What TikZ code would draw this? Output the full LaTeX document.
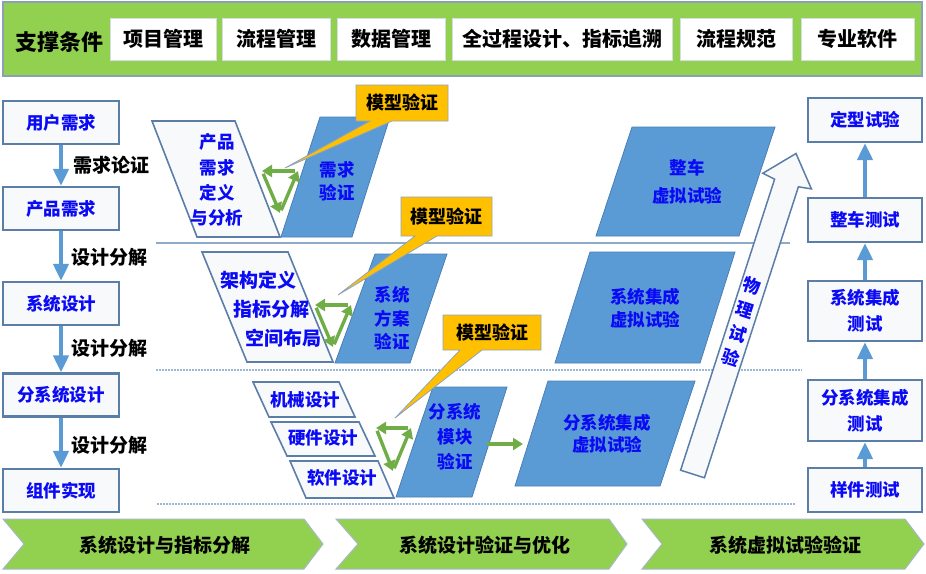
\documentclass[tikz,border=0pt]{standalone}
\usepackage{fontspec}
\setmainfont{Noto Sans CJK SC}
\usetikzlibrary{arrows.meta}
\definecolor{topgreen}{HTML}{92D050}
\definecolor{topline}{HTML}{8AA0B8}
\definecolor{topboxline}{HTML}{D4DCE4}
\definecolor{boxline}{HTML}{5A7EA8}
\definecolor{boxfill}{HTML}{F8F9FB}
\definecolor{txtblue}{HTML}{0A0AF5}
\definecolor{arrblue}{HTML}{5B9BD5}
\definecolor{parblue}{HTML}{5B9BD5}
\definecolor{parline}{HTML}{4A7EB5}
\definecolor{calloutfill}{HTML}{FFC000}
\definecolor{calloutline}{HTML}{8EA4BE}
\definecolor{cycgreen}{HTML}{70AD47}
\definecolor{sepcol}{HTML}{8FAAC8}
\definecolor{dotcol}{HTML}{9DB7D6}
\definecolor{chevline}{HTML}{A8B8C8}
\tikzset{
 lbox/.style={draw=boxline, line width=2.2pt, fill=boxfill, minimum width=116pt, minimum height=43pt, inner sep=0pt, text=txtblue, font=\bfseries\fontsize{17.5}{24}\selectfont, align=center},
 flowarr/.style={draw=arrblue, line width=4pt, -{Triangle[width=15pt,length=17pt]}},
 lab/.style={inner sep=0pt, font=\bfseries\fontsize{19}{22}\selectfont, text=black},
 btxt/.style={inner sep=0pt, text=txtblue, align=center, font=\bfseries\fontsize{17.5}{24}\selectfont},
 bpar/.style={fill=parblue, draw=parline, line width=0.8pt},
 wpar/.style={fill=boxfill, draw=boxline, line width=1.6pt},
 callout/.style={fill=calloutfill, draw=calloutline, line width=0.8pt},
 ctxt/.style={inner sep=0pt, font=\bfseries\fontsize{18}{20}\selectfont, text=black},
 cyc/.style={draw=cycgreen, line width=3.4pt, -{Triangle[width=12pt,length=10pt]}},
 topbox/.style={fill=white, draw=topboxline, line width=0.6pt, inner sep=0pt, minimum height=42pt, font=\bfseries\fontsize{20}{22}\selectfont},
 chev/.style={fill=topgreen, draw=chevline, line width=1pt},
 chtxt/.style={inner sep=0pt, font=\bfseries\fontsize{19}{22}\selectfont, text=black},
 sepline/.style={draw=sepcol, line width=1.5pt},
 dotline/.style={draw=dotcol, line width=1.4pt, dash pattern=on 1.5pt off 1.5pt},
 bigarr/.style={fill=boxfill, draw=boxline, line width=1.5pt},
}
\begin{document}
\begin{tikzpicture}[x=1pt,y=-1pt]
\fill[white] (0,0) rectangle (926,573);
\useasboundingbox (0,0) rectangle (926,573);

% top bar
\draw[fill=topgreen, draw=topline, line width=1.2pt] (3,2) rectangle (922,76);
\node[inner sep=0pt, font=\bfseries\fontsize{22}{24}\selectfont] (S) at (59,42) {支撑条件};
\node[topbox, minimum width=106pt] (T1) at (163,39) {项目管理};
\node[topbox, minimum width=108pt] (T2) at (276,39) {流程管理};
\node[topbox, minimum width=108pt] (T3) at (391,39) {数据管理};
\node[topbox, minimum width=220pt] (T4) at (562,39) {全过程设计、指标追溯};
\node[topbox, minimum width=112pt] (T5) at (736,39) {流程规范};
\node[topbox, minimum width=113pt] (T6) at (857.5,39) {专业软件};

% separators
\draw[sepline] (156,243) -- (790,243);
\draw[dotline] (156,370) -- (802,370);
\draw[dotline] (157,504) -- (795,504);

% left column
\node[lbox] (L1) at (61,122.5) {用户需求};
\node[lbox] (L2) at (61,208.5) {产品需求};
\node[lbox] (L3) at (61,303.5) {系统设计};
\node[lbox] (L4) at (61,395) {分系统设计};
\node[lbox] (L5) at (61,490.5) {组件实现};
\draw[flowarr] (L1) -- (L2);
\draw[flowarr] (L2) -- (L3);
\draw[flowarr] (L3) -- (L4);
\draw[flowarr] (L4) -- (L5);
\node[lab] (A1) at (111,165) {需求论证};
\node[lab] (A2) at (109,257) {设计分解};
\node[lab] (A3) at (109,348) {设计分解};
\node[lab] (A4) at (109,445) {设计分解};

% right column
\node[lbox, minimum width=114pt, minimum height=44pt] (R1) at (865,120) {定型试验};
\node[lbox, minimum width=114pt, minimum height=44pt] (R2) at (865,220) {整车测试};
\node[lbox, minimum width=114pt, minimum height=60pt, font=\bfseries\fontsize{17.5}{26}\selectfont] (R3) at (865,311) {系统集成\\测试};
\node[lbox, minimum width=114pt, minimum height=61pt, font=\bfseries\fontsize{17.5}{26}\selectfont] (R4) at (865,410.5) {分系统集成\\测试};
\node[lbox, minimum width=114pt, minimum height=44pt] (R5) at (865,490) {样件测试};
\draw[flowarr] (R2) -- (R1);
\draw[flowarr] (R3) -- (R2);
\draw[flowarr] (R4) -- (R3);
\draw[flowarr] (R5) -- (R4);

% white parallelograms
\draw[wpar] (152,121) -- (235,121) -- (280,237) -- (197,237) -- cycle;
\draw[wpar] (202,252) -- (288,252) -- (333,362) -- (247,362) -- cycle;
\draw[wpar] (253,382) -- (339,382) -- (355,417) -- (269,417) -- cycle;
\draw[wpar] (271,422) -- (359,422) -- (375,456) -- (287,456) -- cycle;
\draw[wpar] (290,461) -- (378,461) -- (394,498) -- (306,498) -- cycle;

% blue parallelograms
\draw[bpar] (320,117) -- (390,117) -- (352,237) -- (281,237) -- cycle;
\draw[bpar] (375,254) -- (447,254) -- (410,363) -- (335,363) -- cycle;
\draw[bpar] (433,387) -- (507,387) -- (472,497) -- (396,497) -- cycle;
\draw[bpar] (548,381) -- (695,381) -- (660,486) -- (515,486) -- cycle;
\draw[bpar] (590,252) -- (735,252) -- (700,363) -- (555,363) -- cycle;
\draw[bpar] (632,127) -- (775,127) -- (739,236) -- (596,236) -- cycle;

% texts in parallelograms
\node[btxt, font=\bfseries\fontsize{17.5}{25.3}\selectfont] (W1) at (217,180) {产品\\需求\\定义\\与分析};
\node[btxt, font=\bfseries\fontsize{19}{22}\selectfont] (W2a) at (258,280) {架构定义};
\node[btxt, font=\bfseries\fontsize{19}{22}\selectfont] (W2b) at (271,309) {指标分解};
\node[btxt, font=\bfseries\fontsize{19}{22}\selectfont] (W2c) at (283,338) {空间布局};
\node[btxt] (W3) at (305,400) {机械设计};
\node[btxt] (W4) at (323,438) {硬件设计};
\node[btxt] (W5) at (342,478) {软件设计};
\node[btxt, font=\bfseries\fontsize{17.5}{23}\selectfont] (P1) at (337,181.5) {需求\\验证};
\node[btxt, font=\bfseries\fontsize{17.5}{23.5}\selectfont] (P2) at (392,318.5) {系统\\方案\\验证};
\node[btxt, font=\bfseries\fontsize{17.5}{25}\selectfont] (P3) at (455,437) {分系统\\模块\\验证};
\node[btxt, font=\bfseries\fontsize{17.5}{22}\selectfont] (P4) at (607,434) {分系统集成\\虚拟试验};
\node[btxt, font=\bfseries\fontsize{17.5}{23}\selectfont] (P5) at (645,308.5) {系统集成\\虚拟试验};
\node[btxt, font=\bfseries\fontsize{17.5}{28}\selectfont] (P6) at (687,182) {整车\\虚拟试验};

% green cycle arrows
\coordinate (a1) at (298,171); \coordinate (b1) at (262,171); \coordinate (c1) at (280,213);
\draw[cyc, shorten <=3pt] (a1) -- (b1);
\draw[cyc, shorten <=3pt] (b1) -- (c1);
\draw[cyc, shorten <=3pt] (c1) -- (a1);
\coordinate (a2) at (351,305); \coordinate (b2) at (315,305); \coordinate (c2) at (333,347);
\draw[cyc, shorten <=3pt] (a2) -- (b2);
\draw[cyc, shorten <=3pt] (b2) -- (c2);
\draw[cyc, shorten <=3pt] (c2) -- (a2);
\coordinate (a3) at (411,428); \coordinate (b3) at (376,428); \coordinate (c3) at (393,471);
\draw[cyc, shorten <=3pt] (a3) -- (b3);
\draw[cyc, shorten <=3pt] (b3) -- (c3);
\draw[cyc, shorten <=3pt] (c3) -- (a3);
\coordinate (g1) at (487,444); \coordinate (g2) at (523,444);
\draw[cyc] (g1) -- (g2);

% callouts
\draw[callout] (356,85) -- (448,85) -- (448,121) -- (392,121) -- (285,168) -- (370,121) -- (356,121) -- cycle;
\node[ctxt] (M1) at (402,103) {模型验证};
\draw[callout] (401,197) -- (492,197) -- (492,236) -- (437,236) -- (338,295) -- (415,236) -- (401,236) -- cycle;
\node[ctxt] (M2) at (446.5,216.5) {模型验证};
\draw[callout] (443,315) -- (541,315) -- (541,350) -- (482,350) -- (395,418) -- (460,350) -- (443,350) -- cycle;
\node[ctxt] (M3) at (492,332.5) {模型验证};

% big physical test arrow
\draw[bigarr] (680.6,470.2) -- (774.6,179.2) -- (762.8,173.3) -- (796,153.5) -- (811.4,188.9) -- (798.4,186.8) -- (704.4,477.8) -- cycle;
\node[btxt, rotate=-18] (Q1) at (752,286) {物};
\node[btxt, rotate=-18] (Q2) at (745,310) {理};
\node[btxt, rotate=-18] (Q3) at (738,334) {试};
\node[btxt, rotate=-18] (Q4) at (730.5,358) {验};

% chevrons
\draw[chev] (3,519) -- (304,519) -- (323,544) -- (304,569) -- (3,569) -- (24,544) -- cycle;
\draw[chev] (336,519) -- (609,519) -- (627,544) -- (609,569) -- (336,569) -- (358,544) -- cycle;
\draw[chev] (642,519) -- (905,519) -- (924,544) -- (905,569) -- (642,569) -- (662,544) -- cycle;
\node[chtxt] (B1) at (165,545) {系统设计与指标分解};
\node[chtxt] (B2) at (485,545) {系统设计验证与优化};
\node[chtxt] (B3) at (785,545) {系统虚拟试验验证};
\end{tikzpicture}
\end{document}
